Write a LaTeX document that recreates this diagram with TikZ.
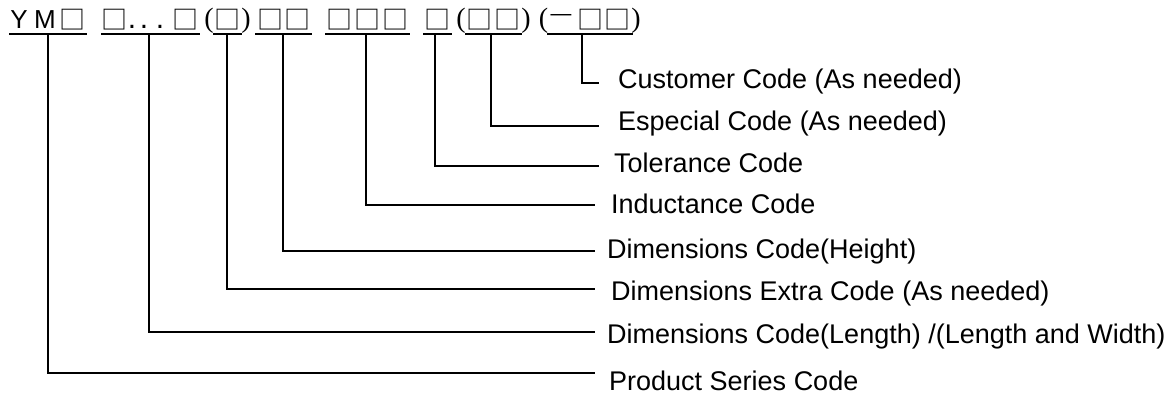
\documentclass[tikz,border=0pt]{standalone}
\usepackage{fontspec}
\setmainfont{Liberation Sans}
\newfontfamily\cjkfont{Noto Sans CJK SC}
\newfontfamily\seriffont{Liberation Serif}
\begin{document}
\begin{tikzpicture}[x=1pt,y=-1pt]
\useasboundingbox (0,0) rectangle (1175,402);
\tikzset{
  lbl/.style={anchor=base west,inner sep=0pt,font=\fontsize{27}{31}\selectfont},
  lat/.style={anchor=base,inner sep=0pt,font=\fontsize{26}{30}\selectfont},
  dot/.style={anchor=base,inner sep=0pt,font=\fontsize{30}{32}\selectfont},
  sq/.style={anchor=center,inner sep=0pt,font=\cjkfont\fontsize{26}{28}\selectfont},
  par/.style={anchor=center,inner sep=0pt,font=\seriffont\fontsize{28}{32}\selectfont},
  uline/.style={line width=2pt},
  conn/.style={line width=1.3pt},
}
% ---- top code row ----
\node[lat] (cY) at (19,28) {Y};
\node[lat] (cM) at (45,28) {M};
\node[sq] (s1) at (72.5,19.5) {□};
\node[sq] (s2) at (114.5,19.5) {□};
\node[dot] (d1) at (132,28) {.};
\node[dot] (d2) at (144,28) {.};
\node[dot] (d3) at (160,28) {.};
\node[sq] (s3) at (185,19.5) {□};
\node[par] (p1) at (209,20.5) {(};
\node[sq] (s4) at (227.5,19.5) {□};
\node[par] (p2) at (246,20.5) {)};
\node[sq] (s5) at (270.5,19.5) {□};
\node[sq] (s6) at (297.5,19.5) {□};
\node[sq] (s7) at (339,19.5) {□};
\node[sq] (s8) at (367,19.5) {□};
\node[sq] (s9) at (395,19.5) {□};
\node[sq] (s10) at (437.5,19.5) {□};
\node[par] (p3) at (461,20.5) {(};
\node[sq] (s11) at (479,19.5) {□};
\node[sq] (s12) at (507.5,19.5) {□};
\node[par] (p4) at (526,20.5) {)};
\node[par] (p5) at (543.5,20.5) {(};
\node[par,xscale=1.6,transform shape] (mn) at (561,20) {−};
\node[sq] (s13) at (590,19.5) {□};
\node[sq] (s14) at (617.5,19.5) {□};
\node[par] (p6) at (636,20.5) {)};
% ---- underlines ----
\coordinate (u1a) at (9,34);   \coordinate (u1b) at (87,34);
\coordinate (u2a) at (101,34); \coordinate (u2b) at (200,34);
\coordinate (u3a) at (213,34); \coordinate (u3b) at (242,34);
\coordinate (u4a) at (255,34); \coordinate (u4b) at (312,34);
\coordinate (u5a) at (325,34); \coordinate (u5b) at (410,34);
\coordinate (u6a) at (423,34); \coordinate (u6b) at (452,34);
\coordinate (u7a) at (465,34); \coordinate (u7b) at (522,34);
\coordinate (u8a) at (547,34); \coordinate (u8b) at (633,34);
\foreach \i in {1,...,8} {\draw[uline] (u\i a) -- (u\i b);}
% ---- connector starts ----
\coordinate (g1) at (48,34);
\coordinate (g2) at (149,34);
\coordinate (g3) at (227,34);
\coordinate (g4) at (283,34);
\coordinate (g5) at (366,34);
\coordinate (g6) at (435,34);
\coordinate (g7) at (491,34);
\coordinate (g8) at (582,34);
% ---- connector ends ----
\coordinate (e8) at (599,83);
\coordinate (e7) at (599,126);
\coordinate (e6) at (599,166);
\coordinate (e5) at (595,205);
\coordinate (e4) at (595,251);
\coordinate (e3) at (595,289);
\coordinate (e2) at (595,332);
\coordinate (e1) at (595,373);
\foreach \i in {1,...,8} {\draw[conn] (g\i) |- (e\i);}
% ---- labels ----
\node[lbl] (l8) at (618,88) {Customer Code (As needed)};
\node[lbl] (l7) at (618,130) {Especial Code (As needed)};
\node[lbl] (l6) at (614,172) {Tolerance Code};
\node[lbl] (l5) at (611,213) {Inductance Code};
\node[lbl] (l4) at (607,258) {Dimensions Code(Height)};
\node[lbl] (l3) at (611,300) {Dimensions Extra Code (As needed)};
\node[lbl] (l2) at (607,343) {Dimensions Code(Length) /(Length and Width)};
\node[lbl] (l1) at (609,390) {Product Series Code};
\end{tikzpicture}
\end{document}
